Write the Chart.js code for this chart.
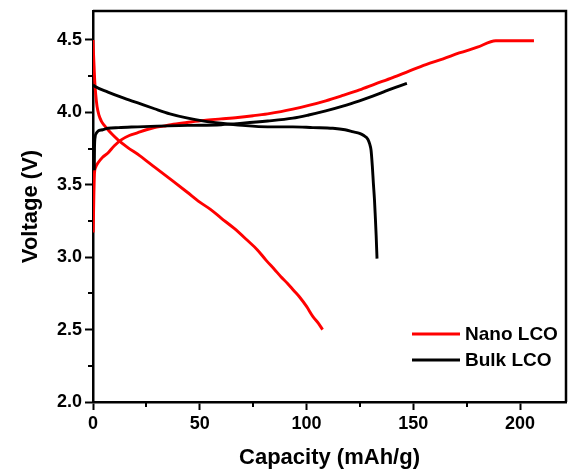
<!DOCTYPE html>
<html>
<head>
<meta charset="utf-8">
<script src="https://cdn.jsdelivr.net/npm/chart.js@4.4.1/dist/chart.umd.min.js"></script>
<style>
  html, body { margin: 0; padding: 0; background: #ffffff; }
  #wrap { width: 568px; height: 472px; }
</style>
</head>
<body>
<div id="wrap"><canvas id="c" width="568" height="472"></canvas></div>
<script>
// ---- Data ----
const seriesNames = ['Nano LCO', 'Bulk LCO'];
const seriesColors = ['#ff0000', '#000000'];

const nanoChargeX = [0.1, 0.4, 0.7, 1.2, 2.3, 4.5, 7, 10, 13.2, 17, 21, 25, 28.8, 33, 36.6, 44, 52, 60, 67.8, 75, 81.8, 88, 93.6, 101, 109, 117, 124.8, 132, 140.3, 148, 155.9, 164, 171.5, 180, 188.6, 197, 206.5];
const nanoChargeV = [3.17, 3.42, 3.58, 3.62, 3.65, 3.69, 3.72, 3.77, 3.81, 3.84, 3.86, 3.88, 3.895, 3.905, 3.915, 3.93, 3.945, 3.955, 3.965, 3.977, 3.99, 4.005, 4.022, 4.048, 4.08, 4.117, 4.155, 4.195, 4.24, 4.285, 4.33, 4.37, 4.41, 4.45, 4.495, 4.495, 4.495];

const nanoDischargeX = [0, 0.2, 0.5, 0.8, 1.3, 1.9, 2.8, 3.9, 5.3, 7, 9.2, 11.7, 16, 22, 29, 37, 44, 50, 55, 60, 66, 72, 77, 81, 85, 88, 91, 94, 97, 100, 103, 105.5, 107.5];
const nanoDischargeV = [4.5, 4.42, 4.32, 4.22, 4.12, 4.04, 3.98, 3.94, 3.91, 3.88, 3.845, 3.81, 3.76, 3.70, 3.62, 3.53, 3.45, 3.38, 3.33, 3.27, 3.20, 3.12, 3.05, 2.98, 2.915, 2.865, 2.82, 2.77, 2.72, 2.66, 2.59, 2.545, 2.50];

const bulkChargeX = [0.6, 0.7, 1.0, 1.5, 2.3, 4.5, 7, 12, 21, 30, 44.4, 60, 70, 81.8, 93.6, 101, 109, 117, 124.8, 131, 137.2, 142, 147];
const bulkChargeV = [3.6, 3.75, 3.83, 3.855, 3.87, 3.88, 3.89, 3.895, 3.90, 3.905, 3.91, 3.915, 3.925, 3.94, 3.96, 3.982, 4.01, 4.043, 4.08, 4.112, 4.148, 4.175, 4.20];

const bulkDischargeX = [0, 0.8, 7, 13.2, 21, 28.8, 36, 44.4, 52, 60, 70, 81.8, 93.6, 103, 112.3, 118, 122, 124.8, 126.8, 128.7, 129.6, 130.2, 130.8, 131.3, 131.8, 132.2, 132.6, 133];
const bulkDischargeV = [4.19, 4.18, 4.14, 4.105, 4.065, 4.025, 3.99, 3.96, 3.94, 3.925, 3.91, 3.90, 3.90, 3.895, 3.89, 3.88, 3.865, 3.855, 3.84, 3.815, 3.78, 3.74, 3.63, 3.51, 3.40, 3.28, 3.15, 2.99];

const xTicks = [0, 50, 100, 150, 200];
const xMinorTicks = [25, 75, 125, 175];
const yTicks = [2.0, 2.5, 3.0, 3.5, 4.0, 4.5];
const yMinorTicks = [2.25, 2.75, 3.25, 3.75, 4.25];
const xMin = 0, xMax = 221.5;
const yMin = 2.0, yMax = 4.7;
const xTitle = 'Capacity (mAh/g)';
const yTitle = 'Voltage (V)';

// ---- Helpers ----
function pts(xs, ys) { return xs.map((x, i) => ({ x: x, y: ys[i] })); }
const FONT = '"Liberation Sans", Arial, sans-serif';

function ds(label, xs, ys, color, order) {
  return {
    label: label,
    data: pts(xs, ys),
    borderColor: color,
    backgroundColor: color,
    borderWidth: 2.9,
    pointRadius: 0,
    cubicInterpolationMode: 'monotone',
    fill: false,
    order: order
  };
}

const extrasPlugin = {
  id: 'extras',
  afterDraw(chart) {
    const ctx = chart.ctx;
    const a = chart.chartArea;
    const xs = chart.scales.x, ys = chart.scales.y;
    ctx.save();
    // frame
    ctx.strokeStyle = '#000';
    ctx.lineWidth = 2.5;
    ctx.beginPath();
    ctx.moveTo(a.left, a.top);
    ctx.lineTo(a.right, a.top);
    ctx.lineTo(a.right, a.bottom);
    ctx.stroke();
    // minor ticks
    ctx.lineWidth = 2;
    ctx.beginPath();
    yMinorTicks.forEach(v => {
      const p = Math.round(ys.getPixelForValue(v));
      ctx.moveTo(a.left - 5, p); ctx.lineTo(a.left, p);
    });
    xMinorTicks.forEach(v => {
      const p = Math.round(xs.getPixelForValue(v));
      ctx.moveTo(p, a.bottom); ctx.lineTo(p, a.bottom + 5);
    });
    ctx.stroke();
    // legend
    const lx0 = a.right - 154, lx1 = a.right - 106, tx = a.right - 101;
    const ly0 = a.bottom - 68, gap = 26;
    ctx.font = 'bold 19px ' + FONT;
    ctx.textBaseline = 'middle';
    ctx.textAlign = 'left';
    seriesNames.forEach((name, i) => {
      const y = ly0 + i * gap;
      ctx.strokeStyle = seriesColors[i];
      ctx.lineWidth = 2.8;
      ctx.beginPath();
      ctx.moveTo(lx0, y); ctx.lineTo(lx1, y);
      ctx.stroke();
      ctx.fillStyle = '#000';
      ctx.fillText(name, tx, y + 1);
    });
    ctx.restore();
  }
};

new Chart(document.getElementById('c'), {
  type: 'line',
  data: {
    datasets: [
      ds(seriesNames[0], nanoChargeX, nanoChargeV, seriesColors[0], 1),
      ds(seriesNames[0], nanoDischargeX, nanoDischargeV, seriesColors[0], 1),
      ds(seriesNames[1], bulkChargeX, bulkChargeV, seriesColors[1], 0),
      ds(seriesNames[1], bulkDischargeX, bulkDischargeV, seriesColors[1], 0)
    ]
  },
  options: {
    responsive: false,
    animation: false,
    layout: { padding: { top: 11, right: 2, left: 0, bottom: 0 } },
    plugins: { legend: { display: false }, tooltip: { enabled: false } },
    scales: {
      x: {
        type: 'linear',
        min: xMin, max: xMax,
        afterBuildTicks: s => { s.ticks = xTicks.map(v => ({ value: v })); },
        afterFit: s => { s.height = 70; s.paddingLeft = 0; s.paddingRight = 0; },
        border: { display: true, color: '#000', width: 2.5 },
        grid: { display: true, drawOnChartArea: false, drawTicks: true, tickLength: 8, tickWidth: 2, tickColor: '#000', color: '#000' },
        ticks: {
          color: '#000', padding: 3, maxRotation: 0,
          font: { family: FONT, size: 18, weight: 'bold' },
          callback: v => String(v)
        },
        title: {
          display: true, text: xTitle, color: '#000',
          font: { family: FONT, size: 22, weight: 'bold' },
          padding: { top: 0, bottom: 1 }
        }
      },
      y: {
        type: 'linear',
        min: yMin, max: yMax,
        afterBuildTicks: s => { s.ticks = yTicks.map(v => ({ value: v })); },
        afterFit: s => { s.width = 93; s.paddingTop = 0; s.paddingBottom = 0; },
        border: { display: true, color: '#000', width: 2.5 },
        grid: { display: true, drawOnChartArea: false, drawTicks: true, tickLength: 8, tickWidth: 2, tickColor: '#000', color: '#000' },
        ticks: {
          color: '#000', padding: 3,
          font: { family: FONT, size: 18, weight: 'bold' },
          callback: v => Number(v).toFixed(1)
        },
        title: {
          display: true, text: yTitle, color: '#000',
          font: { family: FONT, size: 22, weight: 'bold' },
          padding: { top: 18, bottom: 0 }
        }
      }
    }
  },
  plugins: [extrasPlugin]
});
</script>
</body>
</html>
